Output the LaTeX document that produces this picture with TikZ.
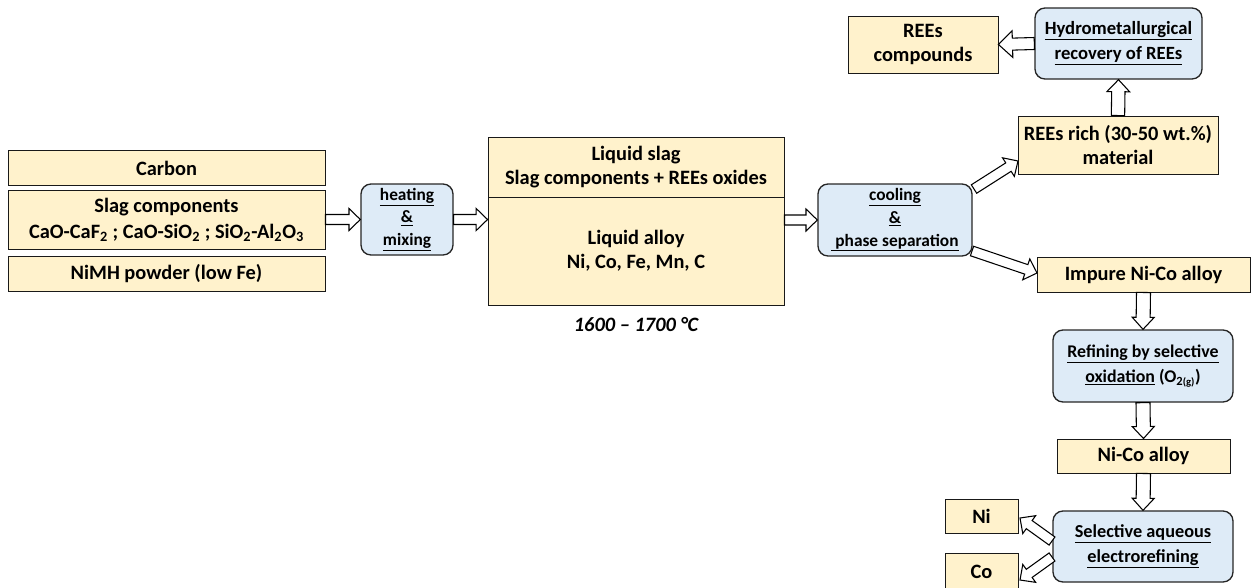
\documentclass[tikz,border=0pt]{standalone}
\usepackage{fontspec}
\setmainfont{Carlito}
\usetikzlibrary{calc}
\definecolor{ybox}{HTML}{FFF2CC}
\definecolor{bbox}{HTML}{DEEBF7}
% block arrow: #1 start, #2 tip, #3 shaft half width, #4 head half width, #5 head length
\newcommand\barrow[5]{%
  \draw[blockarrow] ($(#1)!#3!90:(#2)$) -- ($(#2)!#5!(#1)!#3!-90:(#1)$) -- ($(#2)!#5!(#1)!#4!-90:(#1)$) -- (#2) -- ($(#2)!#5!(#1)!#4!90:(#1)$) -- ($(#2)!#5!(#1)!#3!90:(#1)$) -- ($(#1)!#3!-90:(#2)$) -- cycle;}
\tikzset{
  blockarrow/.style={draw=black, fill=white, line width=0.8pt, line join=miter},
  sz/.style 2 args={minimum width=#1*0.75pt, minimum height=#2*0.75pt},
  txt/.style={align=center, inner sep=0pt, font=\fontsize{15.3}{18}\selectfont\bfseries},
  ybx/.style={txt, draw=black!90, fill=ybox, line width=0.7pt},
  bbx/.style={txt, draw=black!85, fill=bbox, line width=1pt, rounded corners=7.5pt, font=\fontsize{13.7}{17}\selectfont\bfseries},
  smallb/.style={font=\fontsize{13}{17}\selectfont\bfseries},
}
\begin{document}
\begin{tikzpicture}[x=0.75pt, y=-0.75pt]
\useasboundingbox (0,0) rectangle (1254,587);
% inputs
\node[ybx, sz={317}{35}] (carbon) at (166.5,168) {Carbon};
\node[ybx, sz={317}{59}, font=\fontsize{15.3}{19.5}\selectfont\bfseries] (slag) at (166.5,219.5) {Slag components\\CaO-CaF\textsubscript{2} ; CaO-SiO\textsubscript{2} ; SiO\textsubscript{2}-Al\textsubscript{2}O\textsubscript{3}};
\node[ybx, sz={317}{35}] (nimh) at (166.5,273.5) {NiMH powder (low Fe)};
% heating
\node[bbx, sz={92}{71}, smallb] (heat) at (407,219.5) {\underline{heating}\\\underline{\&}\\\underline{mixing}};
% big box
\node[ybx, sz={296}{60}] (lslag) at (636,167) {Liquid slag\\Slag components + REEs oxides};
\node[ybx, sz={296}{108}] (lalloy) at (636,251) {Liquid alloy\\Ni, Co, Fe, Mn, C};
\node[txt, font=\fontsize{15.3}{18}\selectfont\bfseries\itshape] (temp) at (636,325) {1600 – 1700 °C};
% cooling
\node[bbx, sz={154}{72}, smallb] (cool) at (895,220) {\underline{cooling}\\\underline{\&}\\\underline{ phase separation}};
% REEs branch
\node[ybx, sz={200}{58}] (rich) at (1118,145) {REEs rich (30-50 wt.\%)\\material};
\node[bbx, sz={167}{71}, font=\fontsize{14}{19}\selectfont\bfseries] (hydro) at (1118.5,43.5) {\underline{Hydrometallurgical}\\\underline{recovery of REEs}};
\node[ybx, sz={150}{57}] (comp) at (923,44.5) {REEs\\compounds};
% alloy branch
\node[ybx, sz={213}{35}] (impure) at (1143.5,274.5) {Impure Ni-Co alloy};
\node[bbx, sz={180}{72}, font=\fontsize{13.4}{19}\selectfont\bfseries] (refine) at (1143,366) {\underline{Refining by selective}\\\underline{oxidation} (O\textsubscript{2\fontsize{8}{8}\selectfont(g)})};
\node[ybx, sz={173}{34}] (nico) at (1143.5,456) {Ni-Co alloy};
\node[bbx, sz={180}{71}, font=\fontsize{13.7}{19}\selectfont\bfseries] (elec) at (1143,546.5) {\underline{Selective aqueous}\\\underline{electrorefining}};
\node[ybx, sz={73}{34}] (ni) at (981.5,516) {Ni};
\node[ybx, sz={73}{37}] (co) at (981.5,571.5) {Co};
% connector end points
\coordinate (bigin) at (heat.east -| lalloy.west);
\coordinate (bigout) at (cool.west -| lalloy.east);
\coordinate (cup) at (974,189);
\coordinate (richin) at (1018,161);
\coordinate (cdown) at (972,251);
\coordinate (impin) at (1037,273);
\coordinate (eni) at (1052,541);
\coordinate (nitip) at (1020,518);
\coordinate (eco) at (1052,557);
\coordinate (cotip) at (1020,580);
% arrows
\barrow{slag.east}{heat.west}{3.75pt}{8.25pt}{8.5pt}
\barrow{heat.east}{bigin}{3.75pt}{8.25pt}{8.5pt}
\barrow{bigout}{cool.west}{3.75pt}{8.25pt}{8.5pt}
\barrow{cup}{richin}{3.75pt}{8.25pt}{8.5pt}
\barrow{cdown}{impin}{3.75pt}{8.25pt}{8.5pt}
\barrow{rich.north}{hydro.south}{5pt}{8.5pt}{9pt}
\barrow{hydro.west}{comp.east}{4.5pt}{10pt}{10.5pt}
\barrow{impure.south}{refine.north}{5.25pt}{8.25pt}{9pt}
\barrow{refine.south}{nico.north}{5.25pt}{8.25pt}{9pt}
\barrow{nico.south}{elec.north}{5.25pt}{8.25pt}{9pt}
\barrow{eni}{nitip}{3.75pt}{8.25pt}{8.5pt}
\barrow{eco}{cotip}{3.75pt}{8.25pt}{8.5pt}
\end{tikzpicture}
\end{document}
